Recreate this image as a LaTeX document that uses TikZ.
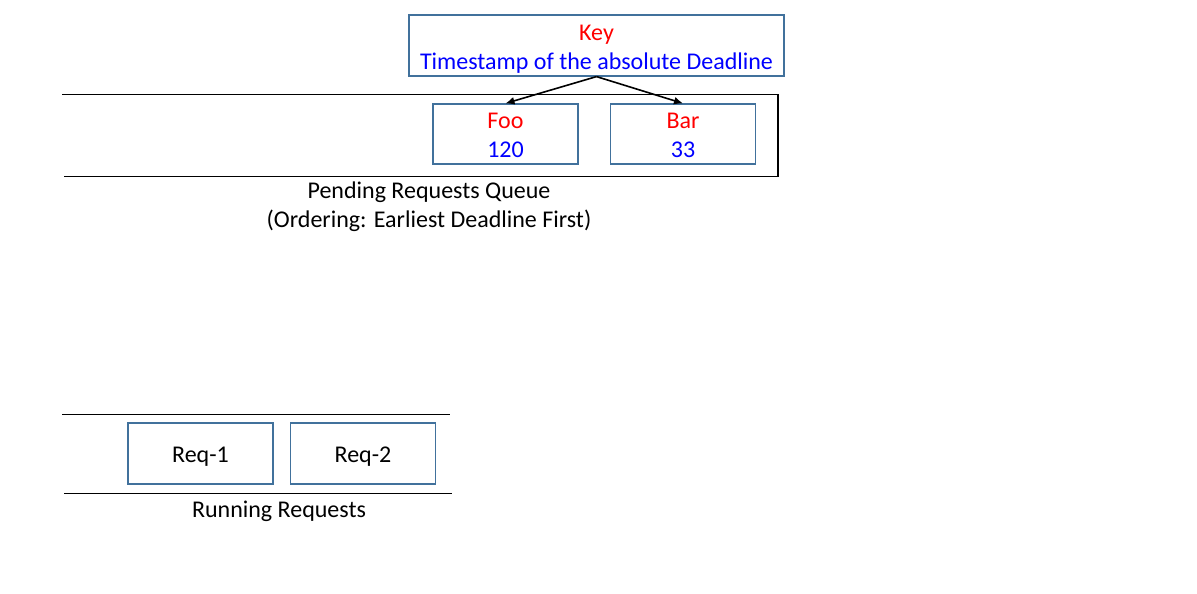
\documentclass[tikz,border=0pt]{standalone}
\usepackage{fontspec}
\setmainfont{Carlito}
\usepackage{tikz}
\usetikzlibrary{arrows.meta}

\definecolor{boxblue}{HTML}{41719C}

\begin{document}
\begin{tikzpicture}[x=1pt,y=-1pt,
    font=\fontsize{24}{29}\selectfont,
    reqbox/.style={draw=boxblue,line width=1.2pt,minimum width=145pt,minimum height=60pt,inner sep=0pt,align=center},
    oneline/.style={text height=18.4pt,text depth=0pt},
    twoline/.style={text height=47.5pt,text depth=0pt},
    queueline/.style={line width=0.8pt}]

\useasboundingbox (0,0) rectangle (1197,594);

% Key
\node[reqbox,twoline,minimum width=375pt,minimum height=61pt] (key) at (596.5,45.5)
    {\textcolor{red}{Key}\\\textcolor{blue}{Timestamp of the absolute Deadline}};

% Pending queue
\draw[queueline] (62,94) -- (778,94);
\draw[line width=1.4pt] (778,94) -- (778,177);
\draw[queueline] (64,176) -- (778,176);
\node[reqbox,twoline] (foo) at (505.5,134) {\textcolor{red}{Foo}\\\textcolor{blue}{120}};
\node[reqbox,twoline] (bar) at (683,134) {\textcolor{red}{Bar}\\\textcolor{blue}{33}};
\node[align=center] (pending) at (429,206.5) {Pending Requests Queue\\(Ordering: Earliest Deadline First)};

% Arrows
\draw[-{Latex[length=9pt,width=8pt]},line width=1.6pt] (key.south) -- (foo.north);
\draw[-{Latex[length=9pt,width=8pt]},line width=1.6pt] (key.south) -- (bar.north);

% Running requests
\draw[queueline] (62,414) -- (450,414);
\draw[queueline] (64,493) -- (452,493);
\node[reqbox,oneline,minimum height=61pt] (req1) at (200.5,453.5) {Req-1};
\node[reqbox,oneline,minimum height=61pt] (req2) at (363,453.5) {Req-2};
\node (running) at (279,511) {Running Requests};

\end{tikzpicture}
\end{document}
